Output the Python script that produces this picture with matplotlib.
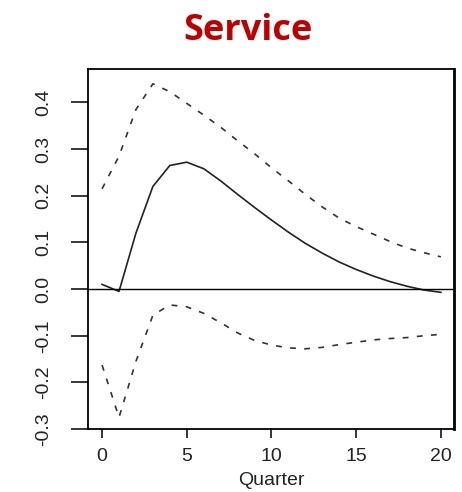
import matplotlib
matplotlib.use('Agg')
import matplotlib.pyplot as plt

# impulse response of service output, with upper and lower bands
quarters = list(range(0, 21))
response = [0.010, -0.005, 0.120, 0.220, 0.265, 0.272, 0.258, 0.232, 0.203, 0.175,
            0.148, 0.122, 0.098, 0.077, 0.058, 0.042, 0.028, 0.016, 0.006, -0.002,
            -0.007]
upper = [0.215, 0.285, 0.385, 0.440, 0.423, 0.398, 0.373, 0.347, 0.318, 0.290,
         0.260, 0.232, 0.203, 0.176, 0.152, 0.134, 0.118, 0.102, 0.088, 0.078,
         0.069]
lower = [-0.163, -0.275, -0.155, -0.056, -0.034, -0.038, -0.052, -0.072, -0.094,
         -0.110, -0.120, -0.126, -0.128, -0.125, -0.119, -0.114, -0.109, -0.106,
         -0.104, -0.100, -0.097]

xticks = [0, 5, 10, 15, 20]
yticks = [-0.3, -0.2, -0.1, 0.0, 0.1, 0.2, 0.3, 0.4]
ytick_labels = ['-0.3', '-0.2', '-0.1', '0.0', '0.1', '0.2', '0.3', '0.4']

plt.rcParams['font.family'] = ['Liberation Sans', 'DejaVu Sans']

fig = plt.figure(figsize=(4.62, 4.92), dpi=100)
ax = fig.add_axes([0.1905, 0.128, 0.792, 0.732])

ax.plot(quarters, response, color='#222222', lw=1.2)
ax.plot(quarters, upper, color='#333333', lw=1.2, linestyle=(0, (3.5, 5)))
ax.plot(quarters, lower, color='#333333', lw=1.2, linestyle=(0, (3.5, 5)))
ax.axhline(0, color='black', lw=1)

ax.set_xlim(-0.83, 20.77)
ax.set_ylim(-0.3, 0.472)

ax.set_xticks(xticks)
ax.set_yticks(yticks)
ax.set_yticklabels(ytick_labels, rotation=90, va='center')
ax.tick_params(axis='y', length=12, width=1.1, pad=14, labelsize=14,
               labelcolor='#222222')
ax.tick_params(axis='x', length=6.5, width=1.1, pad=7, labelsize=14,
               labelcolor='#222222')

for side in ['left', 'bottom', 'top']:
    ax.spines[side].set_linewidth(1.3)
ax.spines['right'].set_linewidth(2)

# x label sits right at the bottom edge
fig.text(271 / 462, 0.006, 'Quarter', ha='center', va='bottom', fontsize=14,
         color='#222222')

fig.text(248 / 462, 1 - 31 / 492, 'Service', ha='center', va='center',
         fontsize=26, fontweight='bold', color='#C00000', family='Open Sans')

fig.savefig('out.png', dpi=100)
